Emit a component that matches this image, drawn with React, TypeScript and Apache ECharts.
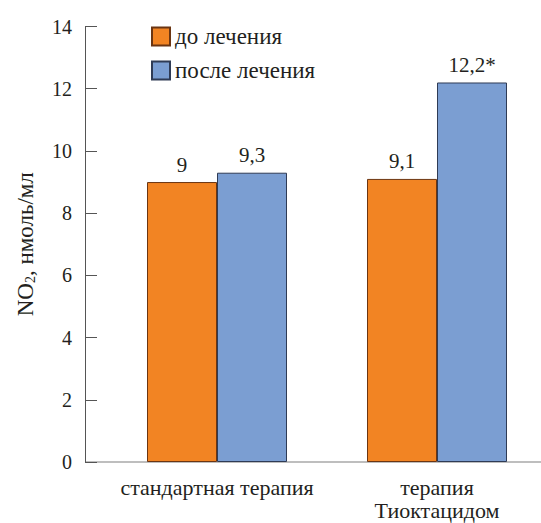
import React, { useEffect, useRef } from "react";
import * as echarts from "echarts";

const categories = ["стандартная терапия", "терапия\nТиоктацидом"];
const seriesNames = ["до лечения", "после лечения"];
const beforeValues = [9, 9.1];
const afterValues = [9.3, 12.2];
const beforeLabels = ["9", "9,1"];
const afterLabels = ["9,3", "12,2*"];
const yTicks = [0, 2, 4, 6, 8, 10, 12, 14];

const FONT = "Liberation Serif, Times New Roman, DejaVu Serif, serif";
const TEXT = "#231f20";

export default function App() {
  const ref = useRef<HTMLDivElement>(null);
  useEffect(() => {
    if (!ref.current) return;
    const chart = echarts.init(ref.current, null, { renderer: "svg" });
    chart.setOption({
      animation: false,
      backgroundColor: "#ffffff",
      textStyle: { fontFamily: FONT, color: TEXT },
      legend: {
        orient: "vertical",
        left: 146,
        top: 20,
        itemWidth: 18,
        itemHeight: 18,
        itemGap: 11,
        icon: "rect",
        textStyle: { fontFamily: FONT, fontSize: 23, color: TEXT, padding: [0, 0, 0, 0] },
        data: seriesNames,
      },
      grid: { left: 107, width: 440, top: 26.5, bottom: 61, outerBoundsMode: "none", containLabel: false },
      xAxis: {
        type: "category",
        data: categories,
        axisLine: { show: false },
        axisTick: { show: false },
        axisLabel: {
          interval: 0,
          hideOverlap: false,
          fontFamily: FONT,
          fontSize: 22,
          color: TEXT,
          margin: 14,
          lineHeight: 23,
        },
      },
      yAxis: {
        type: "value",
        min: yTicks[0],
        max: yTicks[yTicks.length - 1],
        interval: 2,
        offset: 22,
        name: "{a|NO}{s|2}{a|, нмоль/мл}",
        nameLocation: "middle",
        nameGap: 48,
        nameRotate: 90,
        nameTextStyle: {
          fontFamily: FONT,
          rich: {
            a: { fontFamily: FONT, fontSize: 23, color: TEXT },
            s: { fontFamily: FONT, fontSize: 14, color: TEXT, verticalAlign: "bottom", padding: [10, 0, 0, 0] },
          },
        },
        axisLine: { show: true, lineStyle: { color: "#555555", width: 1 } },
        axisTick: { show: true, inside: true, length: 12, lineStyle: { color: "#555555" } },
        splitLine: { show: false },
        axisLabel: { fontFamily: FONT, fontSize: 20, color: TEXT, margin: 13 },
      },
      graphic: [
        {
          type: "line",
          shape: { x1: 85, y1: 462, x2: 541, y2: 462 },
          style: { stroke: "#a8a8a8", lineWidth: 1.5 },
          z: 0,
        },
      ],
      series: [
        {
          name: seriesNames[0],
          type: "bar",
          data: beforeValues,
          barWidth: 70,
          barGap: "0%",
          itemStyle: { color: "#F28423", borderColor: "#6b3512", borderWidth: 1 },
          label: {
            show: true,
            position: "top",
            distance: 7,
            fontFamily: FONT,
            fontSize: 21,
            color: TEXT,
            formatter: (p: any) => beforeLabels[p.dataIndex],
          },
        },
        {
          name: seriesNames[1],
          type: "bar",
          data: afterValues,
          barWidth: 70,
          barGap: "0%",
          itemStyle: { color: "#7B9ED2", borderColor: "#2f3b55", borderWidth: 1 },
          label: {
            show: true,
            position: "top",
            distance: 7,
            fontFamily: FONT,
            fontSize: 21,
            color: TEXT,
            formatter: (p: any) => afterLabels[p.dataIndex],
          },
        },
      ],
    });
    return () => chart.dispose();
  }, []);
  return (
    <div
      ref={ref}
      style={{ position: "fixed", left: 0, top: 0, width: 541, height: 523 }}
    />
  );
}
